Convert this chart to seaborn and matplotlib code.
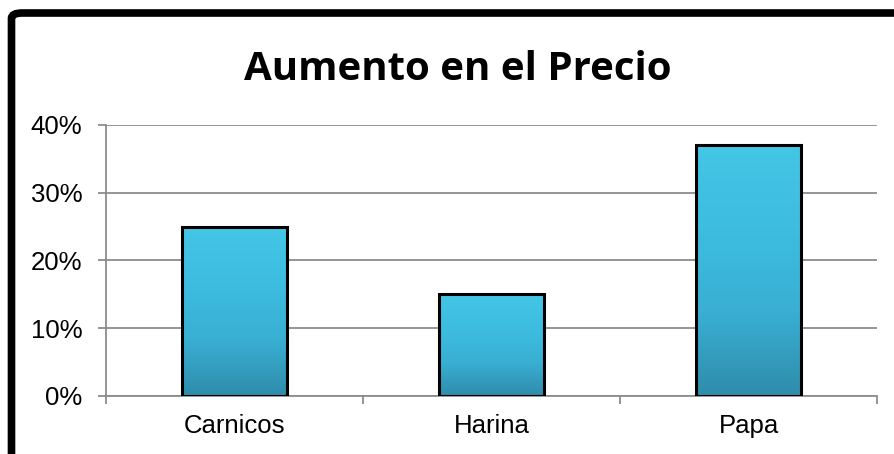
import numpy as np
import pandas as pd
import seaborn as sns
import matplotlib.pyplot as plt
from matplotlib.patches import FancyBboxPatch
from matplotlib.colors import LinearSegmentedColormap
from matplotlib.ticker import PercentFormatter, FixedLocator

# datos
categorias = ['Carnicos', 'Harina', 'Papa']
aumento = [0.25, 0.15, 0.37]
titulo = 'Aumento en el Precio'

df = pd.DataFrame({'categoria': categorias, 'aumento': aumento})

sns.set_style('white')
plt.rcParams['font.family'] = ['Liberation Sans', 'DejaVu Sans']
plt.rcParams['text.color'] = 'black'
plt.rcParams['xtick.labelcolor'] = 'black'
plt.rcParams['ytick.labelcolor'] = 'black'

fig = plt.figure(figsize=(8.95, 4.54), dpi=100)
ax = fig.add_axes([0.1184, 0.1278, 0.98 - 0.1184, 0.7247 - 0.1278])

sns.barplot(data=df, x='categoria', y='aumento', ax=ax, color='#3ab7d9',
            width=0.41, edgecolor='black', linewidth=2.2, zorder=3)

# degradado dentro de las barras
cmap = LinearSegmentedColormap.from_list('azul', ['#2f8cab', '#39afd3', '#3dbde0', '#44c6e6'])
grad = np.linspace(0, 1, 256).reshape(-1, 1)
for p in ax.patches:
    x0, y0 = p.get_x(), p.get_y()
    w, h = p.get_width(), p.get_height()
    im = ax.imshow(grad, cmap=cmap, aspect='auto', origin='lower',
                   extent=[x0, x0 + w, y0, y0 + h], zorder=3.5)
    im.set_clip_path(p)
    p.set_facecolor('none')
    p.set_zorder(4)

ax.set_xlim(-0.5, 2.5)
ax.set_ylim(0, 0.40)
ax.yaxis.set_major_locator(FixedLocator([0, 0.1, 0.2, 0.3, 0.4]))
ax.yaxis.set_major_formatter(PercentFormatter(1.0, decimals=0))
ax.grid(axis='y', color='#8c8c8c', linewidth=1.3, zorder=0)
ax.set_xlabel('')
ax.set_ylabel('')

for s in ['top', 'right']:
    ax.spines[s].set_visible(False)
for s in ['left', 'bottom']:
    ax.spines[s].set_color('#8c8c8c')
    ax.spines[s].set_linewidth(1.3)

ax.tick_params(axis='y', length=6, width=1.3, color='#8c8c8c', pad=11,
               labelsize=18.5, left=True)
ax.tick_params(axis='x', which='major', length=0, pad=13, labelsize=18.5)
ax.set_xticks([-0.5, 0.5, 1.5, 2.5], minor=True)
ax.tick_params(axis='x', which='minor', length=6, width=1.3, color='#8c8c8c',
               bottom=True)

fig.text(0.512, 0.846, titulo, ha='center', va='center', fontsize=29,
         fontweight='bold', color='black', family=['Open Sans', 'DejaVu Sans'])

# marco negro redondeado (recortado a la derecha y abajo)
marco = FancyBboxPatch((11.5 / 895, -0.2), 1.2, 1.2 - 13 / 454,
                       boxstyle='round,pad=0,rounding_size=0.012',
                       transform=fig.transFigure, facecolor='none',
                       edgecolor='black', linewidth=5.5, zorder=10)
fig.patches.append(marco)

fig.savefig('out.png', dpi=100)
